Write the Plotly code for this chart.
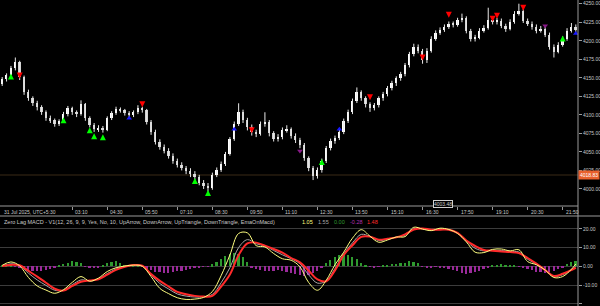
import plotly.graph_objects as go

# ---------------- data ----------------
time_ticks_idx = [16, 24, 32, 40, 48, 56, 64, 72, 80, 88, 96, 104, 112, 120, 128]
time_ticks_txt = ["03:10", "04:30", "05:50", "07:10", "08:30", "09:50", "11:10", "12:30",
                  "13:50", "15:10", "16:30", "17:50", "19:10", "20:30", "21:50"]
date_label = "31 Jul 2025, UTC+5:30"

opens = [4142.0, 4147.9, 4153.2, 4162.6, 4170.7, 4150.5, 4130.4, 4122.3, 4115.6, 4110.2,
         4103.5, 4095.4, 4092.8, 4087.4, 4091.4, 4100.8, 4108.9, 4103.5, 4100.8, 4114.3,
         4095.4, 4086.0, 4080.7, 4082.0, 4079.3, 4095.4, 4102.2, 4107.5, 4106.2, 4102.2,
         4099.5, 4103.5, 4108.9, 4106.2, 4090.1, 4076.6, 4063.2, 4056.5, 4051.1, 4044.4,
         4037.6, 4032.3, 4028.2, 4024.2, 4020.2, 4016.1, 4008.1, 4004.0, 4001.4, 4018.8,
         4025.6, 4033.6, 4047.1, 4067.2, 4087.4, 4103.5, 4092.8, 4083.3, 4076.6, 4073.9,
         4087.4, 4090.1, 4075.3, 4067.2, 4069.9, 4079.3, 4080.7, 4071.2, 4065.9, 4059.2,
         4041.7, 4028.2, 4017.5, 4025.6, 4037.6, 4055.1, 4064.5, 4068.6, 4076.6, 4091.4,
         4103.5, 4118.3, 4130.4, 4122.3, 4114.3, 4108.9, 4112.9, 4122.3, 4127.7, 4135.8,
         4142.5, 4149.2, 4154.6, 4166.7, 4181.5, 4192.2, 4186.8, 4173.4, 4186.8, 4203.0,
         4211.0, 4215.1, 4219.1, 4223.1, 4221.8, 4228.5, 4231.2, 4213.7, 4203.0, 4204.3,
         4213.7, 4217.7, 4228.5, 4225.8, 4227.2, 4220.4, 4216.4, 4225.8, 4236.6, 4240.6,
         4227.2, 4223.1, 4219.1, 4213.7, 4216.4, 4208.3, 4192.2, 4185.5, 4194.9, 4203.0,
         4213.7, 4219.1]
closes = [4147.9, 4153.2, 4162.6, 4170.7, 4150.5, 4130.4, 4122.3, 4115.6, 4110.2, 4103.5,
          4095.4, 4092.8, 4087.4, 4091.4, 4100.8, 4108.9, 4103.5, 4100.8, 4114.3, 4095.4,
          4086.0, 4080.7, 4082.0, 4079.3, 4095.4, 4102.2, 4107.5, 4106.2, 4102.2, 4099.5,
          4103.5, 4108.9, 4106.2, 4090.1, 4076.6, 4063.2, 4056.5, 4051.1, 4044.4, 4037.6,
          4032.3, 4028.2, 4024.2, 4020.2, 4016.1, 4008.1, 4004.0, 4001.4, 4018.8, 4025.6,
          4033.6, 4047.1, 4067.2, 4087.4, 4103.5, 4092.8, 4083.3, 4076.6, 4073.9, 4087.4,
          4090.1, 4075.3, 4067.2, 4069.9, 4079.3, 4080.7, 4071.2, 4065.9, 4059.2, 4041.7,
          4028.2, 4017.5, 4025.6, 4037.6, 4055.1, 4064.5, 4068.6, 4076.6, 4091.4, 4103.5,
          4118.3, 4130.4, 4122.3, 4114.3, 4108.9, 4112.9, 4122.3, 4127.7, 4135.8, 4142.5,
          4149.2, 4154.6, 4166.7, 4181.5, 4192.2, 4186.8, 4173.4, 4186.8, 4203.0, 4211.0,
          4215.1, 4219.1, 4223.1, 4221.8, 4228.5, 4231.2, 4213.7, 4203.0, 4204.3, 4213.7,
          4217.7, 4228.5, 4225.8, 4227.2, 4220.4, 4216.4, 4225.8, 4236.6, 4240.6, 4227.2,
          4223.1, 4219.1, 4213.7, 4216.4, 4208.3, 4192.2, 4185.5, 4194.9, 4203.0, 4213.7,
          4219.1, 4215.1]
highs = [4151, 4156, 4166, 4177.4, 4173, 4153, 4134, 4125, 4119, 4113,
         4106, 4099, 4095, 4094, 4104, 4112, 4111, 4106, 4119.6, 4116,
         4098, 4089, 4086, 4085, 4098, 4105, 4111, 4110, 4108, 4105,
         4106, 4113, 4111, 4108, 4093, 4080, 4067, 4060, 4055, 4048,
         4041, 4036, 4031, 4028, 4024, 4019, 4012, 4008, 4022, 4029,
         4037, 4050, 4070, 4091, 4115.6, 4107, 4096, 4087, 4080, 4091,
         4103.5, 4093, 4078, 4074, 4083, 4086, 4083, 4075, 4069, 4062,
         4044, 4031, 4029, 4041, 4058, 4068, 4072, 4080, 4095, 4107,
         4122, 4137, 4133, 4125, 4117, 4116, 4125, 4131, 4139, 4146,
         4152, 4158, 4170, 4185, 4196, 4195, 4189, 4190, 4206, 4214,
         4218, 4222, 4226, 4226, 4231, 4236.6, 4233, 4216, 4208, 4217,
         4221, 4244.6, 4232, 4231, 4230, 4223, 4229, 4240, 4250, 4243,
         4230, 4226, 4222, 4220, 4219, 4211, 4195, 4198, 4206, 4217,
         4224, 4222]
lows = [4139, 4145, 4151, 4160, 4147, 4127, 4119, 4112, 4106, 4100,
        4092, 4089, 4084, 4085, 4089, 4098, 4100, 4097, 4099, 4092,
        4083, 4077, 4077, 4076, 4078, 4093, 4100, 4103, 4099, 4096,
        4097, 4101, 4103, 4087, 4073, 4060, 4053, 4048, 4041, 4034,
        4029, 4025, 4020, 4016, 4012, 4005, 4000, 3996, 3999, 4016,
        4023, 4031, 4045, 4065, 4085, 4089, 4079, 4072, 4070, 4072,
        4084, 4071, 4064, 4064, 4067, 4076, 4068, 4062, 4055, 4038,
        4024, 4012, 4014, 4022, 4035, 4052, 4061, 4066, 4074, 4089,
        4101, 4116, 4119, 4110, 4104, 4106, 4110, 4119, 4125, 4133,
        4139, 4146, 4152, 4164, 4179, 4183, 4169, 4170, 4184, 4200,
        4208, 4212, 4216, 4218, 4219, 4225, 4210, 4199, 4199, 4202,
        4211, 4215, 4222, 4222, 4217, 4212, 4214, 4223, 4234, 4224,
        4220, 4215, 4210, 4211, 4205, 4188, 4177.4, 4183, 4192, 4200,
        4211, 4212]

# signal markers (candle index, price)
down_arrow_idx = [4, 32, 57, 84, 96, 102, 112, 113, 119]
down_arrow_px = [4149.2, 4110.2, 4075.3, 4119.6, 4173.4, 4231.2, 4225.8, 4229.8, 4240.6]
up_arrow_idx = [2, 14, 20, 21, 23, 44, 47, 73, 128]
up_arrow_px = [4155.9, 4096.8, 4083.3, 4075.3, 4073.9, 4014.8, 3998.7, 4040.3, 4207.0]
up_tri_idx = [29, 53, 77, 131]
up_tri_px = [4095.4, 4080.7, 4080.7, 4209.7]
down_tri_idx = [68, 124]
down_tri_px = [4051.1, 4220.4]

last_price = 4018.83
last_price_text = "4018.83"
price_ticks = [4000, 4025, 4050, 4075, 4100, 4125, 4150, 4175, 4200, 4225, 4250]
price_tick_txt = ["4000.00", "4025.00", "4050.00", "4075.00", "4100.00", "4125.00",
                  "4150.00", "4175.00", "4200.00", "4225.00", "4250.00"]

# Zero Lag MACD
macd_x = [0, 2, 4, 6, 8, 10, 12, 14, 16, 18, 20, 22, 24, 26, 28, 30, 32, 34, 36, 38,
          40, 42, 44, 46, 48, 50, 52, 54, 56, 58, 60, 62, 64, 66, 68, 70, 72, 74, 76, 78,
          80, 82, 84, 86, 88, 90, 92, 94, 96, 98, 100, 102, 104, 106, 108, 110, 112, 114,
          116, 118, 120, 122, 124, 126, 128, 130, 131]
macd_yellow = [0.5, 2.3, 0.2, -6.0, -10.5, -12.7, -14.4, -12.5, -8.6, -5.5, -8.0, -6.3, -2.8,
               -0.8, 0.1, 0.6, 0.0, -5.5, -11.8, -14.6, -16.8, -17.7, -17.5, -16.6, -13.5,
               -5.0, 6.0, 17.5, 17.8, 11.0, 10.3, 6.8, 4.0, 3.2, -0.3, -8.7, -12.8, -7.5,
               0.8, 7.5, 15.0, 19.5, 16.0, 12.8, 14.0, 15.6, 15.8, 20.8, 19.8, 19.0, 20.3,
               19.6, 17.5, 13.0, 7.5, 7.3, 9.0, 9.2, 8.2, 8.8, 2.5, 0.8, -2.0, -6.0, -5.5,
               -1.6, 1.2]
macd_gray = [0.2, 1.3, 0.4, -3.7, -7.3, -10.2, -12.8, -12.8, -9.8, -7.3, -7.7, -6.7, -3.9,
             -1.5, -0.2, 0.6, 0.2, -4.7, -9.2, -12.1, -14.8, -15.9, -16.4, -16.3, -15.0,
             -8.8, -0.8, 10.0, 14.2, 12.0, 10.8, 8.4, 6.1, 4.0, 1.3, -4.6, -9.0, -7.8,
             -1.2, 6.5, 12.5, 17.0, 15.9, 13.7, 14.5, 15.5, 16.6, 20.0, 20.1, 19.3, 19.8,
             19.5, 17.7, 13.5, 9.6, 8.2, 8.5, 8.4, 7.8, 7.6, 3.7, 1.2, -2.0, -5.5, -4.5,
             -1.9, -0.1]
macd_red = [0.1, 0.7, 0.5, -2.5, -5.5, -8.8, -12.0, -13.0, -10.5, -8.3, -7.6, -6.9, -4.5,
            -1.9, -0.3, 0.6, 0.3, -4.2, -7.8, -10.8, -13.7, -14.9, -15.8, -16.2, -15.8,
            -10.8, -4.4, 6.0, 12.2, 12.6, 11.0, 9.2, 7.3, 4.4, 2.1, -2.4, -7.0, -8.0,
            -2.2, 6.0, 11.2, 15.7, 15.8, 14.2, 14.7, 15.4, 17.0, 19.6, 20.2, 19.5, 19.5,
            19.5, 17.8, 13.7, 10.8, 8.7, 8.3, 7.9, 7.6, 7.0, 4.4, 1.4, -2.0, -5.2, -4.0,
            -2.0, -0.8]
macd_hist = [0.3, 0.5, 0.4, -0.3, -0.8, -1.5, -2.0, -2.4, -2.6, -2.4,
             -2.0, -1.4, -0.6, 0.4, 1.2, 2.0, 2.6, 2.3, 1.5, -0.4,
             -0.9, -1.0, -0.6, 0.5, 1.5, 2.4, 2.6, 1.8, 0.8, 0.3,
             0.2, 0.1, -0.4, -1.2, -2.2, -2.9, -3.3, -3.5, -3.4, -3.1,
             -2.7, -2.3, -1.9, -1.5, -1.1, -0.7, -0.4, -0.1, 1.0, 2.5,
             4.0, 5.5, 6.5, 7.0, 6.8, 5.0, 2.5, -0.8, -1.6, -2.2,
             -2.5, -2.6, -2.4, -2.2, -2.5, -3.0, -3.6, -4.2, -4.8, -5.0,
             -4.6, -3.8, -2.5, -1.0, 1.5, 3.5, 5.0, 6.0, 6.3, 6.0,
             5.2, 3.8, 2.0, 0.6, -0.4, -0.6, -0.3, 0.3, 0.8, 1.2,
             1.3, 1.5, 2.0, 2.6, 2.4, 1.6, -0.3, -0.8, -0.6, -0.4,
             -0.5, -0.8, -1.2, -1.8, -2.6, -3.4, -4.0, -3.8, -3.2, -2.4,
             -1.4, -0.6, 0.4, 0.8, 1.0, 0.8, 0.5, 0.3, -0.3, -0.8,
             -1.5, -2.2, -2.8, -3.3, -3.5, -3.2, -2.5, -1.6, -0.5, 1.2,
             2.2, 2.6]
macd_ticks = [20, 10, 0, -10, -20]
macd_tick_txt = ["20.00", "10.00", "0.00", "-10.00", "-20.00"]
macd_title = "Zero Lag MACD - V1(12, 26, 9, 9, Yes, No, 10, UpArrow, DownArrow, UpTriangle, DownTriangle, EmaOnMacd)"
macd_values_txt = ["1.05", "1.55", "0.00", "-0.28", "1.48"]

# ---------------- style ----------------
W, H = 600, 306
PLOT_W = 578
FONT = "Liberation Sans"
TXT = "#c8c8c8"
AXIS = "#9a9a9a"
C_YEL, C_GRAY, C_GRN, C_PUR, C_RED = "#ffff80", "#a8a8a8", "#2f9a2f", "#9a2a9a", "#ff2a2a"

main_bot = 206
sub_top = 216
def py(px):
    return 1 - px / H

n = len(closes)
idx = list(range(n))

fig = go.Figure()

# wicks (one line trace, segments separated by None)
wx, wy = [], []
for i, hi, lo in zip(idx, highs, lows):
    wx += [i, i, None]
    wy += [lo, hi, None]
fig.add_trace(go.Scatter(x=wx, y=wy, mode="lines", line=dict(color="#e8e8e8", width=1),
                         xaxis="x", yaxis="y", showlegend=False, hoverinfo="skip"))
# bodies
body_base = [min(o, c) for o, c in zip(opens, closes)]
body_len = [max(abs(c - o), 0.9) for o, c in zip(opens, closes)]
body_col = ["#ffffff" if c >= o else "#cfcfcf" for o, c in zip(opens, closes)]
fig.add_trace(go.Bar(x=idx, y=body_len, base=body_base, width=0.42,
                     marker=dict(color=body_col, line=dict(width=0)),
                     xaxis="x", yaxis="y", showlegend=False, hoverinfo="skip"))

def mk(xs, ys, sym, col, size):
    fig.add_trace(go.Scatter(x=xs, y=ys, mode="markers", xaxis="x", yaxis="y",
                             marker=dict(symbol=sym, color=col, size=size, line=dict(width=0)),
                             showlegend=False, hoverinfo="skip"))

mk(down_arrow_idx, down_arrow_px, "arrow-down", "#ff0000", 6)
mk(up_arrow_idx, up_arrow_px, "arrow-up", "#00ff00", 6)
mk(up_tri_idx, up_tri_px, "triangle-up", "#1a1aff", 5)
mk(down_tri_idx, down_tri_px, "triangle-down", "#8a1a8a", 5)

hist_colors = [C_GRN if v >= 0 else C_PUR for v in macd_hist]
fig.add_trace(go.Bar(x=idx, y=macd_hist, marker=dict(color=hist_colors, line=dict(width=0)),
                     width=0.4, xaxis="x2", yaxis="y2", showlegend=False, hoverinfo="skip"))
fig.add_trace(go.Scatter(x=macd_x, y=macd_gray, mode="lines", line=dict(color=C_GRAY, width=1, shape="spline"),
                         xaxis="x2", yaxis="y2", showlegend=False, hoverinfo="skip"))
fig.add_trace(go.Scatter(x=macd_x, y=macd_red, mode="lines", line=dict(color=C_RED, width=2, shape="spline"),
                         xaxis="x2", yaxis="y2", showlegend=False, hoverinfo="skip"))
fig.add_trace(go.Scatter(x=macd_x, y=macd_yellow, mode="lines", line=dict(color=C_YEL, width=1, shape="spline"),
                         xaxis="x2", yaxis="y2", showlegend=False, hoverinfo="skip"))

xr = [-0.5, n - 0.5]
price_rng = [3977, 4255]
macd_rng = [-21.2, 26.8]

fig.update_layout(
    width=W, height=H, margin=dict(l=0, r=W - PLOT_W, t=0, b=0),
    paper_bgcolor="black", plot_bgcolor="black",
    font=dict(family=FONT, size=5, color=TXT),
    bargap=0, barmode="overlay",
    xaxis=dict(domain=[0, 1], range=xr, anchor="y", showgrid=False, zeroline=False,
               tickmode="array", tickvals=time_ticks_idx,
               ticktext=[""] * len(time_ticks_idx), ticks="outside", ticklen=3,
               tickcolor=AXIS, showticklabels=False, showline=False),
    yaxis=dict(domain=[py(main_bot), 1], range=price_rng, side="right", showgrid=False,
               zeroline=False, tickmode="array", tickvals=price_ticks, ticktext=price_tick_txt,
               ticks="outside", ticklen=3, tickcolor=AXIS, tickfont=dict(size=5, color=TXT),
               showline=False),
    xaxis2=dict(domain=[0, 1], range=xr, anchor="y2", showgrid=False, zeroline=False,
                showticklabels=False, ticks="", showline=False),
    yaxis2=dict(domain=[0, py(sub_top)], range=macd_rng, side="right", showgrid=True,
                gridcolor="#3c3c3c", gridwidth=1, zeroline=False, tickmode="array",
                tickvals=macd_ticks, ticktext=macd_tick_txt, ticks="outside", ticklen=3,
                tickcolor=AXIS, tickfont=dict(size=5, color=TXT), showline=False),
)

shapes = [
    dict(type="line", xref="paper", yref="paper", x0=1, x1=1, y0=0, y1=1,
         line=dict(color=AXIS, width=1)),
    dict(type="line", xref="paper", yref="paper", x0=0, x1=1, y0=py(main_bot), y1=py(main_bot),
         line=dict(color=AXIS, width=1)),
    dict(type="line", xref="paper", yref="paper", x0=0, x1=W / PLOT_W, y0=py(sub_top), y1=py(sub_top),
         line=dict(color=AXIS, width=1)),
    dict(type="line", xref="paper", yref="y", x0=0, x1=1, y0=last_price, y1=last_price,
         line=dict(color="#3a2a16", width=1), layer="below"),
]
fig.update_layout(shapes=shapes)

ann = []
ann.append(dict(text=date_label, xref="paper", yref="paper", x=2 / PLOT_W, y=py(212),
                xanchor="left", yanchor="middle", showarrow=False, font=dict(size=5, color=TXT)))
for ti, tt in zip(time_ticks_idx, time_ticks_txt):
    ann.append(dict(text=tt, xref="x", yref="paper", x=ti, y=py(212), xanchor="left",
                    yanchor="middle", xshift=1, showarrow=False, font=dict(size=5, color=TXT)))
ann.append(dict(text=last_price_text, xref="paper", yref="y", x=1, y=last_price, xanchor="left",
                yanchor="middle", showarrow=False, bgcolor="#e8602c", borderpad=1,
                font=dict(size=5, color="white")))
ann.append(dict(text="4003.48", xref="paper", yref="paper", x=443 / PLOT_W, y=py(204),
                xanchor="center", yanchor="middle", showarrow=False, bgcolor="black",
                bordercolor="#d0d0d0", borderwidth=1, borderpad=0, font=dict(size=5, color=TXT)))
ann.append(dict(text=macd_title, xref="paper", yref="paper", x=2 / PLOT_W, y=py(222),
                xanchor="left", yanchor="middle", showarrow=False, font=dict(size=5.5, color=TXT)))
val_x = [300, 316, 332, 348, 365]
val_c = [C_YEL, C_GRAY, C_GRN, "#b030b0", C_RED]
for vx, vt, vc in zip(val_x, macd_values_txt, val_c):
    ann.append(dict(text=vt, xref="paper", yref="paper", x=vx / PLOT_W, y=py(222),
                    xanchor="left", yanchor="middle", showarrow=False, font=dict(size=5.5, color=vc)))
fig.update_layout(annotations=ann)

fig.write_html("out.html")
